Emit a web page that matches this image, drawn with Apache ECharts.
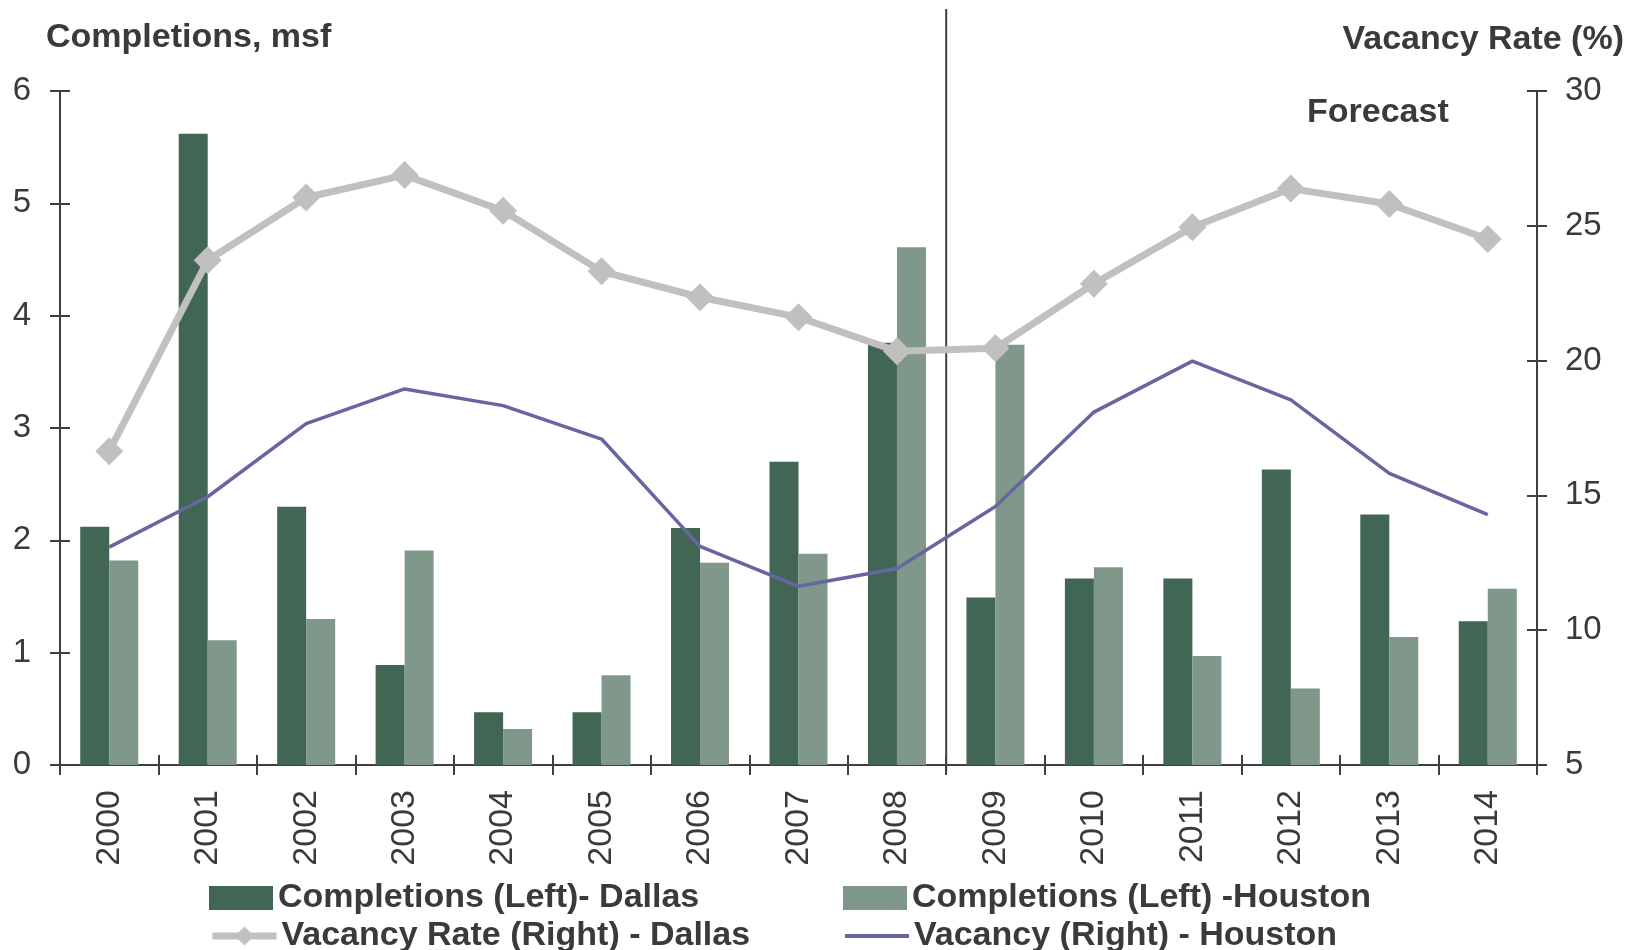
<!DOCTYPE html>
<html>
<head>
<meta charset="utf-8">
<script src="https://cdn.jsdelivr.net/npm/echarts@6/dist/echarts.min.js"></script>
<style>
  html, body { margin: 0; padding: 0; background: #ffffff; }
  #chart { width: 1636px; height: 950px; }
</style>
</head>
<body>
<div id="chart"></div>
<script>
// ---- Data ----
const years = ['2000','2001','2002','2003','2004','2005','2006','2007','2008','2009','2010','2011','2012','2013','2014'];
const dallasCompletions  = [2.12, 5.62, 2.30, 0.89, 0.47, 0.47, 2.11, 2.70, 3.76, 1.49, 1.66, 1.66, 2.63, 2.23, 1.28];
const houstonCompletions = [1.82, 1.11, 1.30, 1.91, 0.32, 0.80, 1.80, 1.88, 4.61, 3.74, 1.76, 0.97, 0.68, 1.14, 1.57];
const dallasVacancy  = [16.64, 23.72, 26.05, 26.88, 25.56, 23.31, 22.35, 21.61, 20.35, 20.46, 22.85, 24.95, 26.38, 25.81, 24.51];
const houstonVacancy = [13.08, 14.95, 17.66, 18.95, 18.33, 17.09, 13.11, 11.63, 12.29, 14.59, 18.09, 19.98, 18.54, 15.82, 14.29];
const leftAxisRange  = [0, 6, 1];   // min, max, interval (msf)
const rightAxisRange = [5, 30, 5];  // min, max, interval (%)
const forecastBoundary = 9;         // boundary between 2008 and 2009 (category slots)
const forecastLineSpan = [-0.06, 6.73]; // extent of the divider on the left scale

const seriesNames = {
  dc: 'Completions (Left)- Dallas',
  hc: 'Completions (Left) -Houston',
  dv: 'Vacancy Rate (Right) - Dallas',
  hv: 'Vacancy (Right) - Houston'
};

const TXT = '#3a3a3a';
const AX = '#404040';
const FONT = "'Liberation Sans', Arial, Helvetica, sans-serif";
const C_DC = '#426654', C_HC = '#7f988a', C_DV = '#c0c0c0', C_HV = '#6666a0';

const chart = echarts.init(document.getElementById('chart'), null, { renderer: 'canvas' });

const legendText = { fontSize: 34, fontWeight: 'bold', color: TXT, fontFamily: FONT, lineHeight: 30 };
function legendItem(item, left, top) {
  return { data: [item], orient: 'horizontal', left: left, top: top,
    itemWidth: 64, itemHeight: 24, padding: 0, textStyle: legendText };
}

const option = {
  backgroundColor: '#ffffff',
  animation: false,
  textStyle: { fontFamily: FONT },
  title: [
    { text: 'Completions, msf', left: 46, top: 21, padding: 0,
      textStyle: { fontSize: 34, fontWeight: 'bold', color: TXT, fontFamily: FONT } },
    { text: 'Vacancy Rate (%)', right: 12, top: 23, padding: 0,
      textStyle: { fontSize: 34, fontWeight: 'bold', color: TXT, fontFamily: FONT } },
    { text: 'Forecast', left: 1307, top: 96, padding: 0,
      textStyle: { fontSize: 34, fontWeight: 'bold', color: TXT, fontFamily: FONT } }
  ],
  legend: [
    legendItem({ name: seriesNames.dc, icon: 'rect' }, 209, 881),
    legendItem({ name: seriesNames.dv, lineStyle: { width: 7, color: C_DV } }, 209, 919),
    legendItem({ name: seriesNames.hc, icon: 'rect' }, 843, 881),
    legendItem({ name: seriesNames.hv, itemStyle: { opacity: 0 }, lineStyle: { width: 4, color: C_HV } }, 843, 919)
  ],
  grid: { left: 60, right: 99, top: 91, bottom: 185, containLabel: false },
  xAxis: [
    { type: 'category', data: years, position: 'bottom',
      axisLine: { show: true, onZero: false, lineStyle: { color: AX, width: 2 } },
      axisTick: { show: true, inside: false, length: 10, lineStyle: { color: AX, width: 2 } },
      axisLabel: { rotate: 90, margin: 25, fontSize: 34, color: TXT, fontFamily: FONT },
      splitLine: { show: false } },
    { type: 'category', data: years, position: 'bottom',
      axisLine: { show: false, onZero: false },
      axisTick: { show: true, inside: true, length: 10, lineStyle: { color: AX, width: 2 } },
      axisLabel: { show: false }, splitLine: { show: false } },
    { type: 'value', show: false, position: 'top', min: 0, max: years.length,
      axisLine: { onZero: false }, splitLine: { show: false } }
  ],
  yAxis: [
    { type: 'value', position: 'left', min: leftAxisRange[0], max: leftAxisRange[1], interval: leftAxisRange[2],
      axisLine: { show: true, onZero: false, lineStyle: { color: AX, width: 2 } },
      axisTick: { show: true, inside: false, length: 10, lineStyle: { color: AX, width: 2 } },
      axisLabel: { margin: 29, fontSize: 33, color: TXT, fontFamily: FONT },
      splitLine: { show: false } },
    { type: 'value', position: 'right', min: rightAxisRange[0], max: rightAxisRange[1], interval: rightAxisRange[2],
      axisLine: { show: true, onZero: false, lineStyle: { color: AX, width: 2 } },
      axisTick: { show: true, inside: false, length: 10, lineStyle: { color: AX, width: 2 } },
      axisLabel: { margin: 28, fontSize: 33, color: TXT, fontFamily: FONT },
      splitLine: { show: false } },
    { type: 'value', position: 'left', min: leftAxisRange[0], max: leftAxisRange[1], interval: leftAxisRange[2],
      axisLine: { show: false, onZero: false },
      axisTick: { show: true, inside: true, length: 10, lineStyle: { color: AX, width: 2 } },
      axisLabel: { show: false }, splitLine: { show: false } },
    { type: 'value', position: 'right', min: rightAxisRange[0], max: rightAxisRange[1], interval: rightAxisRange[2],
      axisLine: { show: false, onZero: false },
      axisTick: { show: true, inside: true, length: 10, lineStyle: { color: AX, width: 2 } },
      axisLabel: { show: false }, splitLine: { show: false } }
  ],
  series: [
    { name: seriesNames.dc, type: 'bar', xAxisIndex: 0, yAxisIndex: 0, data: dallasCompletions,
      barWidth: 29, barGap: '0%', itemStyle: { color: C_DC } },
    { name: seriesNames.hc, type: 'bar', xAxisIndex: 0, yAxisIndex: 0, data: houstonCompletions,
      barWidth: 29, barGap: '0%', itemStyle: { color: C_HC } },
    { name: seriesNames.hv, type: 'line', xAxisIndex: 0, yAxisIndex: 1, data: houstonVacancy,
      symbol: 'none', lineStyle: { color: C_HV, width: 3.5 }, itemStyle: { color: C_HV } },
    { name: seriesNames.dv, type: 'line', xAxisIndex: 0, yAxisIndex: 1, data: dallasVacancy,
      symbol: 'diamond', symbolSize: 28, lineStyle: { color: C_DV, width: 7 },
      itemStyle: { color: C_DV } },
    { name: 'forecast-divider', type: 'line', xAxisIndex: 2, yAxisIndex: 0, clip: false, silent: true,
      data: [[forecastBoundary, forecastLineSpan[0]], [forecastBoundary, forecastLineSpan[1]]],
      symbol: 'none', lineStyle: { color: AX, width: 2 }, z: 1 }
  ]
};

chart.setOption(option);
</script>
</body>
</html>
